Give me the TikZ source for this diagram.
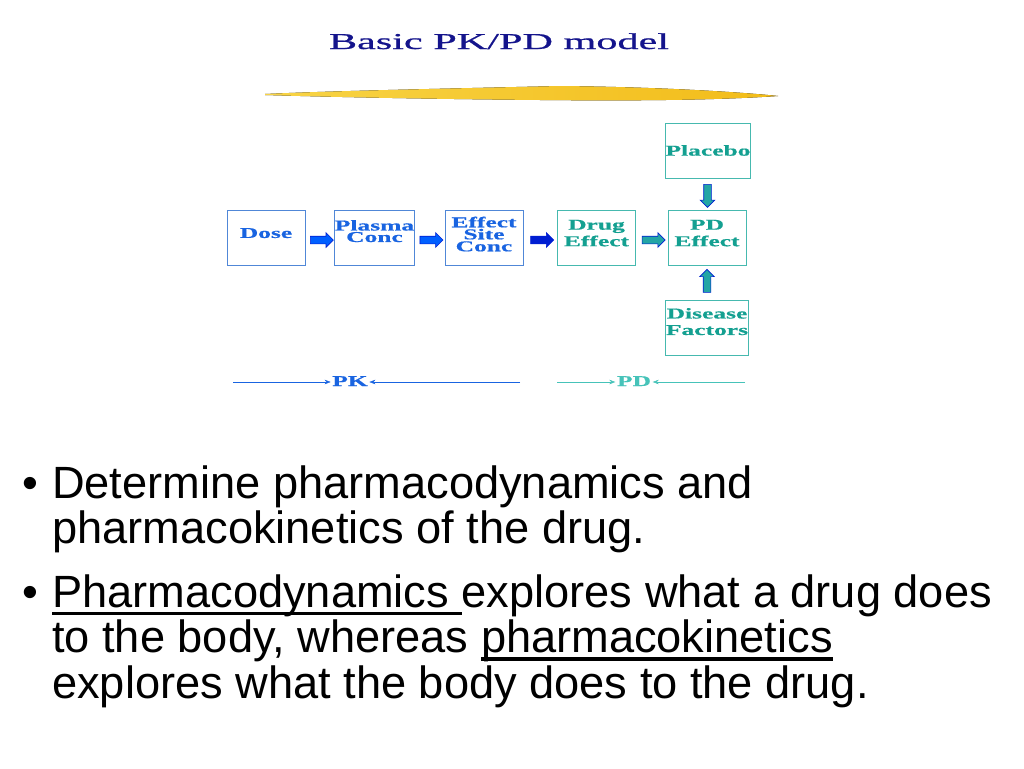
\documentclass[tikz,border=0pt]{standalone}
\usepackage{fontspec}
\usepackage{tikz}
\usetikzlibrary{shapes.arrows,arrows.meta,calc}
\setmainfont{Liberation Serif}
\newfontfamily\bodyfont{Liberation Sans}
\newfontfamily\boxfont[FakeStretch=1.7,FakeBold=0.6]{Liberation Serif}
\newfontfamily\titlefont[FakeStretch=1.86,FakeBold=0.8]{Liberation Serif}
\definecolor{pkblue}{RGB}{25,100,225}
\definecolor{pkframe}{RGB}{80,135,215}
\definecolor{pdteal}{RGB}{20,160,145}
\definecolor{pdframe}{RGB}{70,185,175}
\definecolor{pdline}{RGB}{70,195,185}
\definecolor{titlenavy}{RGB}{20,20,140}
\definecolor{arrowblue}{RGB}{0,95,255}
\definecolor{arrowdark}{RGB}{0,30,210}
\definecolor{arrowteal}{RGB}{35,165,165}
\definecolor{brushlight}{RGB}{248,212,70}
\definecolor{brushdark}{RGB}{242,188,25}
\newsavebox\ulbox
\newcommand{\ulword}[1]{\sbox\ulbox{#1}\rlap{\rule[-8pt]{\wd\ulbox}{3.2pt}}\usebox\ulbox}

\begin{document}
\begin{tikzpicture}[x=1pt,y=-1pt,
    pkbox/.style={draw=pkframe,line width=1pt,minimum width=78pt,minimum height=55pt,
      inner sep=0pt,align=center,text=pkblue,font=\boxfont\bfseries\fontsize{15}{11.5}\selectfont},
    pdbox/.style={pkbox,draw=pdframe,text=pdteal,font=\boxfont\bfseries\fontsize{15}{16.5}\selectfont},
    blockarrow/.style={single arrow,draw=arrowdark,fill=arrowblue,line width=0.6pt,
      minimum height=23pt,text height=3.5pt,text depth=3.5pt,text width=0pt,
      single arrow head extend=3.5pt,inner sep=0pt},
    bullettext/.style={font=\bodyfont\fontsize{45.2}{45.5}\selectfont,align=left,inner sep=0pt,anchor=base west}]
    \useasboundingbox[fill=white] (0,0) rectangle (1024,768);

    % title and brush stroke
    \node[font=\titlefont\fontsize{22.7}{24}\selectfont,text=titlenavy,anchor=base] (title) at (499,49) {Basic PK/PD model};
    \fill[left color=brushlight,right color=brushdark] (265,94) .. controls (330,91) and (430,89) .. (560,86)
      .. controls (660,87) and (740,92) .. (778,96) .. controls (720,100) and (640,101) .. (540,100)
      .. controls (430,99) and (330,97) .. (265,95) -- cycle;

    % PK chain
    \node[pkbox,text depth=9pt] (dose) at (266,237.5) {Dose};
    \node[pkbox,text depth=13pt] (plasma) at (374.5,237.5) {Plasma\\Conc};
    \node[pkbox,text depth=7pt,font=\boxfont\bfseries\fontsize{15}{12}\selectfont] (site) at (484,237.5) {Effect\\Site\\Conc};

    % PD part
    \node[pdbox,text depth=9pt] (drug) at (596.5,237.5) {Drug\\Effect};
    \node[pdbox,text depth=9pt] (pdeff) at (707,237.5) {PD\\Effect};
    \node[pdbox] (placebo) at (708,150.5) {Placebo};
    \node[pdbox,text depth=13pt] (disease) at (707,328) {Disease\\Factors};

    % block arrows
    \node[blockarrow,yshift=-2.5pt] (a1) at ($(dose.east)!0.5!(plasma.west)$) {};
    \node[blockarrow,yshift=-2.5pt] (a2) at ($(plasma.east)!0.5!(site.west)$) {};
    \node[blockarrow,yshift=-2.5pt,fill=arrowdark] (a3) at ($(site.east)!0.5!(drug.west)$) {};
    \node[blockarrow,yshift=-2.5pt,fill=arrowteal] (a4) at ($(drug.east)!0.5!(pdeff.west)$) {};
    \node[blockarrow,fill=arrowteal,rotate=-90] (a5) at ($(placebo.south)!0.5!(pdeff.north)$) {};
    \node[blockarrow,fill=arrowteal,rotate=90] (a6) at ($(disease.north)!0.5!(pdeff.south)$) {};

    % PK / PD ranges
    \node[font=\boxfont\bfseries\fontsize{15}{16}\selectfont,text=pkblue,inner sep=1.5pt,anchor=base] (pk) at (350,386) {PK};
    \coordinate (pkstart) at (233,382);
    \coordinate (pkend) at (520,382);
    \draw[pkblue,-{Stealth[length=6pt,width=4.5pt]}] (pkstart) -- (pkstart -| pk.west);
    \draw[pkblue,-{Stealth[length=6pt,width=4.5pt]}] (pkend) -- (pkend -| pk.east);
    \node[font=\boxfont\bfseries\fontsize{15}{16}\selectfont,text=pdline,inner sep=1.5pt,anchor=base] (pd) at (634,386) {PD};
    \coordinate (pdstart) at (557,382);
    \coordinate (pdend) at (745,382);
    \draw[pdline,-{Stealth[length=6pt,width=4.5pt]}] (pdstart) -- (pdstart -| pd.west);
    \draw[pdline,-{Stealth[length=6pt,width=4.5pt]}] (pdend) -- (pdend -| pd.east);

    % bullet points (base = last line)
    \node[bullettext] (dot1) at (22,498) {\textbullet};
    \node[bullettext] (item1) at (52,543.5) {Determine pharmacodynamics and\\pharmacokinetics of the drug.};
    \node[bullettext] (dot2) at (22,607) {\textbullet};
    \node[bullettext] (item2) at (52,698) {\ulword{Pharmacodynamics\ }explores what a drug does\\to the body, whereas \ulword{pharmacokinetics}\\explores what the body does to the drug.};
\end{tikzpicture}
\end{document}
